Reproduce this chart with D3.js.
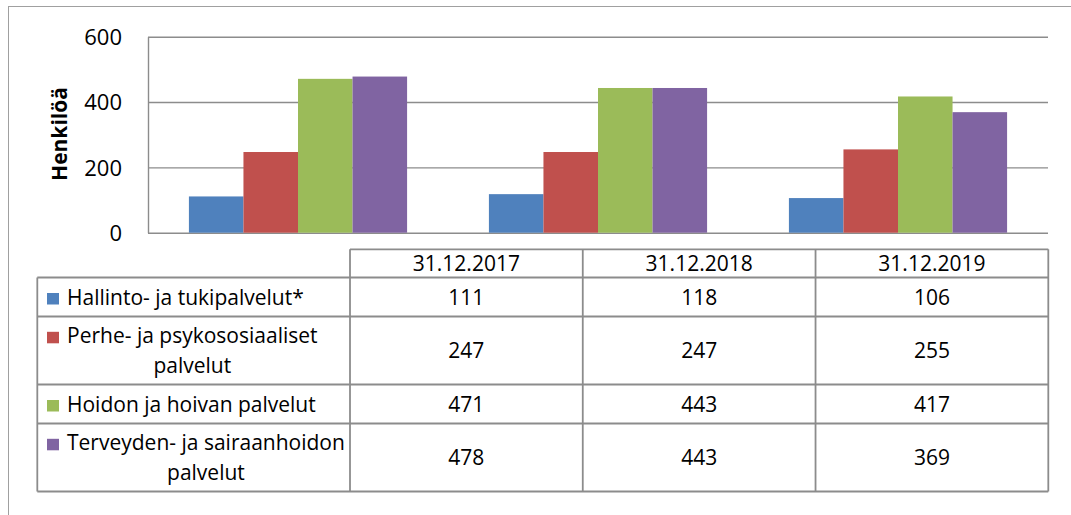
<!DOCTYPE html>
<html>
<head>
<meta charset="utf-8">
<script src="https://cdn.jsdelivr.net/npm/d3@7"></script>
<style>
    body { margin: 0; background: #fff; }
    svg { display: block; font-family: 'Open Sans', sans-serif; }
</style>
</head>
<body>
<div id="chart"></div>
<script>
// data
const categories = ['31.12.2017', '31.12.2018', '31.12.2019'];
const seriesLabels = [
    ['Hallinto- ja tukipalvelut*'],
    ['Perhe- ja psykososiaaliset', 'palvelut'],
    ['Hoidon ja hoivan palvelut'],
    ['Terveyden- ja sairaanhoidon', 'palvelut']
];
const hallinto = [111, 118, 106];
const perhe = [247, 247, 255];
const hoidon = [471, 443, 417];
const terveys = [478, 443, 369];
const yTicks = [0, 200, 400, 600];
const colors = ['#4F81BD', '#C0504D', '#9BBB59', '#8064A2'];

const series = [hallinto, perhe, hoidon, terveys];

const width = 1071;
const height = 515;
const lineColor = '#8c8c8c';

const svg = d3.select('#chart')
    .append('svg')
    .attr('width', width)
    .attr('height', height);

// outer frame (runs off the right and bottom of the picture)
svg.append('rect')
    .attr('x', 8.5)
    .attr('y', 6.5)
    .attr('width', 1100)
    .attr('height', 600)
    .attr('fill', 'none')
    .attr('stroke', '#a0a0a0')
    .attr('stroke-width', 1);

const plot = { left: 148, right: 1048, top: 36.7, bottom: 232.7 };

const yScale = d3.scaleLinear()
    .domain([0, 600])
    .range([plot.bottom, plot.top]);

const x0 = d3.scaleBand()
    .domain(categories)
    .range([plot.left, plot.right])
    .paddingInner(1.5 / 5.5)
    .paddingOuter(0.75 / 5.5);

const x1 = d3.scaleBand()
    .domain(d3.range(series.length))
    .range([0, x0.bandwidth()]);

const yAxis = d3.axisLeft(yScale)
    .tickValues(yTicks)
    .tickSizeInner(-(plot.right - plot.left))
    .tickSizeOuter(0)
    .tickPadding(26);

const axisG = svg.append('g')
    .attr('transform', `translate(${plot.left},0)`)
    .call(yAxis);

axisG.selectAll('line, path')
    .attr('stroke', lineColor)
    .attr('stroke-width', 1.4);
axisG.selectAll('text')
    .attr('fill', '#000')
    .style('font-size', '22px')
    .style('font-family', "'Open Sans', sans-serif")
    .attr('dy', '0.36em');

svg.append('text')
    .attr('transform', 'translate(67,134) rotate(-90)')
    .attr('text-anchor', 'middle')
    .style('font-size', '21px')
    .style('font-weight', 'bold')
    .text('Henkilöä');

// bars
const groups = svg.append('g')
    .selectAll('g')
    .data(categories)
    .enter()
    .append('g')
    .attr('transform', d => `translate(${x0(d)},0)`);

groups.selectAll('rect')
    .data((d, ci) => series.map((s, si) => ({ si, value: s[ci] })))
    .enter()
    .append('rect')
    .attr('x', d => x1(d.si))
    .attr('y', d => yScale(d.value))
    .attr('width', x1.bandwidth())
    .attr('height', d => yScale(0) - yScale(d.value))
    .attr('fill', d => colors[d.si]);

// data table
const table = { left: 37.3, colLeft: 350, right: 1048.3, top: 249.3, headerH: 28.2 };
const lineH = 29.4;
const fontSize = 21;

const xCol = d3.scaleBand()
    .domain(categories)
    .range([table.colLeft, table.right]);

const rowTops = [];
let yPos = table.top + table.headerH;
seriesLabels.forEach(lines => {
    const h = 10 + lines.length * 29;
    rowTops.push({ top: yPos, h: h });
    yPos += h;
});
const tableBottom = yPos;

const tg = svg.append('g').style('font-size', fontSize + 'px');

// header cells
tg.selectAll('.head')
    .data(categories)
    .enter()
    .append('text')
    .attr('x', d => xCol(d) + xCol.bandwidth() / 2)
    .attr('y', table.top + table.headerH / 2 + 7.5)
    .attr('text-anchor', 'middle')
    .text(d => d);

// value cells
series.forEach((s, si) => {
    const r = rowTops[si];
    tg.selectAll(null)
        .data(s)
        .enter()
        .append('text')
        .attr('x', (d, i) => xCol(categories[i]) + xCol.bandwidth() / 2)
        .attr('y', r.top + r.h / 2 + 7.5)
        .attr('text-anchor', 'middle')
        .text(d => d);
});

// legend cells
seriesLabels.forEach((lines, si) => {
    const r = rowTops[si];
    const firstBase = r.top + r.h / 2 - (lines.length - 1) * lineH / 2 + 7.5;

    tg.append('rect')
        .attr('x', 47)
        .attr('y', firstBase - 11.5)
        .attr('width', 12)
        .attr('height', 11.5)
        .attr('fill', colors[si]);

    const first = tg.append('text')
        .attr('x', 67)
        .attr('y', firstBase)
        .text(lines[0]);
    const w = first.node().getComputedTextLength();

    lines.slice(1).forEach((ln, li) => {
        tg.append('text')
            .attr('x', 67 + w / 2)
            .attr('y', firstBase + (li + 1) * lineH)
            .attr('text-anchor', 'middle')
            .text(ln);
    });
});

// table grid
const grid = svg.append('g')
    .attr('stroke', lineColor)
    .attr('stroke-width', 1.8)
    .attr('fill', 'none');

// horizontal lines
grid.append('line')
    .attr('x1', table.colLeft).attr('x2', table.right)
    .attr('y1', table.top).attr('y2', table.top);
rowTops.forEach(r => {
    grid.append('line')
        .attr('x1', table.left).attr('x2', table.right)
        .attr('y1', r.top).attr('y2', r.top);
});
grid.append('line')
    .attr('x1', table.left).attr('x2', table.right)
    .attr('y1', tableBottom).attr('y2', tableBottom);

// vertical lines
grid.append('line')
    .attr('x1', table.left).attr('x2', table.left)
    .attr('y1', rowTops[0].top).attr('y2', tableBottom);
categories.concat([null]).forEach((c, i) => {
    const x = i < categories.length ? xCol(c) : table.right;
    grid.append('line')
        .attr('x1', x).attr('x2', x)
        .attr('y1', table.top).attr('y2', tableBottom);
});
</script>
</body>
</html>
